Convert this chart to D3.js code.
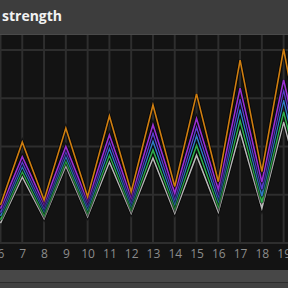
<!DOCTYPE html>
<html>
<head>
<meta charset="utf-8">
<script src="https://cdn.jsdelivr.net/npm/d3@7"></script>
<style>
  html, body { margin: 0; padding: 0; background: #3c3c3c; }
  svg { display: block; }
</style>
</head>
<body>
<div id="chart"></div>
<script>
// hours on the x axis (20 is just past the right edge)
var hours = [6, 7, 8, 9, 10, 11, 12, 13, 14, 15, 16, 17, 18, 19, 20];
var tickHours = [6, 7, 8, 9, 10, 11, 12, 13, 14, 15, 16, 17, 18, 19];

// one array per series, top line first
var orangeVals = [7.9, 20.9, 8.9, 23.8, 9.6, 26.3, 10.6, 28.6, 11.7, 30.9, 12.7, 37.9, 14.8, 40.2, 16.0];
var purpleVals = [7.1, 17.9, 8.1, 20.0, 8.7, 22.4, 9.5, 24.5, 10.3, 25.8, 11.1, 32.1, 12.6, 33.8, 13.5];
var violetVals = [6.3, 16.8, 7.3, 19.0, 7.9, 21.0, 8.6, 22.8, 9.2, 24.0, 9.9, 29.8, 11.1, 31.8, 12.0];
var blueVals = [5.6, 15.8, 6.6, 18.0, 7.1, 19.6, 7.8, 21.1, 8.2, 22.2, 8.8, 27.7, 9.7, 29.6, 10.5];
var greenVals = [4.8, 14.8, 5.8, 17.0, 6.3, 18.2, 7.0, 19.3, 7.2, 20.2, 7.6, 25.4, 8.4, 27.2, 9.2];
var grayVals = [4.1, 13.7, 5.1, 16.0, 5.5, 16.8, 6.2, 17.6, 6.2, 18.2, 6.5, 23.1, 7.2, 25.1, 7.8];

var yTicks = [0, 10, 20, 30, 40];
var title = "strength";

var seriesList = [
  {name: "gray", color: "#b9b9b9", values: grayVals},
  {name: "green", color: "#2fae4c", values: greenVals},
  {name: "blue", color: "#2f7cc4", values: blueVals},
  {name: "violet", color: "#5a3fd0", values: violetVals},
  {name: "purple", color: "#9a2fd2", values: purpleVals},
  {name: "orange", color: "#cf7e10", values: orangeVals}
];

var W = 288, H = 288;
var plotTop = 35, plotBottom = 243;

var svg = d3.select("#chart").append("svg")
  .attr("width", W)
  .attr("height", H);

// background panels
svg.append("rect").attr("x", 0).attr("y", 0).attr("width", W).attr("height", 34).attr("fill", "#3d3d3d");
svg.append("rect").attr("x", 0).attr("y", 34).attr("width", W).attr("height", 1).attr("fill", "#4a4a4a");
svg.append("rect").attr("x", 0).attr("y", plotTop).attr("width", W).attr("height", 270 - plotTop).attr("fill", "#131313");
svg.append("rect").attr("x", 0).attr("y", 270).attr("width", W).attr("height", 12).attr("fill", "#474747");
svg.append("rect").attr("x", 0).attr("y", 282).attr("width", W).attr("height", 1).attr("fill", "#2c2c2c");
svg.append("rect").attr("x", 0).attr("y", 283).attr("width", W).attr("height", 5).attr("fill", "#404040");

svg.append("text")
  .attr("x", 2)
  .attr("y", 21)
  .attr("fill", "#f2f2f2")
  .style("font-family", "'Open Sans', sans-serif")
  .style("font-weight", "bold")
  .style("font-size", "14px")
  .text(title);

var x = d3.scaleLinear().domain([6, 19.2]).range([0.5, 288]);
var y = d3.scaleLinear().domain([0, 43.1]).range([plotBottom, plotTop]);

// grid
svg.append("g").selectAll("line.v")
  .data(tickHours)
  .enter().append("line")
  .attr("x1", d => x(d)).attr("x2", d => x(d))
  .attr("y1", plotTop).attr("y2", plotBottom)
  .attr("stroke", "#2e2e2e")
  .attr("stroke-width", 2);

svg.append("g").selectAll("line.h")
  .data(yTicks)
  .enter().append("line")
  .attr("x1", 0).attr("x2", W)
  .attr("y1", d => y(d)).attr("y2", d => y(d))
  .attr("stroke", "#2e2e2e")
  .attr("stroke-width", 2);

// x axis labels
var xAxis = d3.axisBottom(x).tickValues(tickHours).tickSize(0).tickPadding(0);
var xg = svg.append("g").attr("transform", "translate(0," + 249 + ")").call(xAxis);
xg.select(".domain").remove();
xg.selectAll("text")
  .attr("dy", "0.71em")
  .attr("fill", "#8c8c8c")
  .style("font-family", "'Open Sans', sans-serif")
  .style("font-size", "12px");

var line = d3.line()
  .x((d, i) => x(hours[i]))
  .y(d => y(d));

var lines = svg.append("g");
seriesList.forEach(function (s) {
  lines.append("path")
    .attr("d", line(s.values))
    .attr("fill", "none")
    .attr("stroke", "#000")
    .attr("stroke-opacity", 0.6)
    .attr("stroke-width", 3.5);
  lines.append("path")
    .attr("d", line(s.values))
    .attr("fill", "none")
    .attr("stroke", s.color)
    .attr("stroke-width", 1.6);
});
</script>
</body>
</html>
